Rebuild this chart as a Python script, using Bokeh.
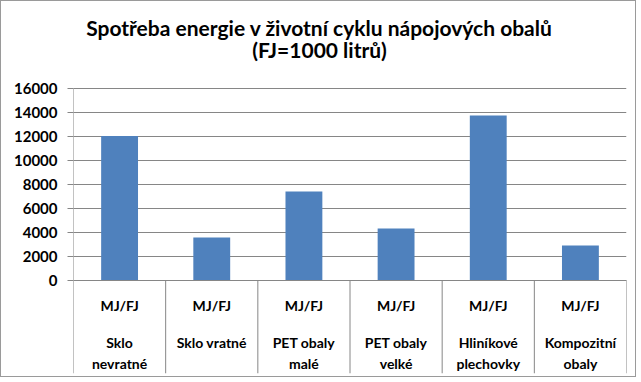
from bokeh.plotting import figure
from bokeh.models import Range1d, FixedTicker, ColumnDataSource
from bokeh.core.properties import value
from bokeh.embed import file_html
from bokeh.resources import INLINE

# ---- data ----
title_line1 = "Spotřeba energie v životní cyklu nápojových obalů"
title_line2 = "(FJ=1000 litrů)"
unit_label = "MJ/FJ"
categories = ["Sklo\nnevratné", "Sklo vratné", "PET obaly\nmalé", "PET obaly\nvelké",
              "Hliníkové\nplechovky", "Kompozitní\nobaly"]
energy = [12000, 3550, 7380, 4300, 13700, 2870]
y_ticks = [0, 2000, 4000, 6000, 8000, 10000, 12000, 14000, 16000]

BAR = "#4F81BD"
GRID = "#868686"
FONT = value("Lato")

n = len(categories)
y_max = y_ticks[-1]
px_per_unit = 12.0 / 1000.0                  # 12 px for every 1000 MJ/FJ
y_range_top = y_max + 86.5 / px_per_unit     # room above for the title
y_range_bottom = -93.5 / px_per_unit         # room below the axis for the labels

p = figure(width=636, height=377, output_backend="svg", toolbar_location=None,
           x_range=Range1d(0, n), y_range=Range1d(y_range_bottom, y_range_top),
           x_axis_location=None, min_border_left=72, min_border_right=11,
           min_border_top=0, min_border_bottom=5)
p.styles = {"border": "1px solid #9A9A9A"}
p.outline_line_color = None
p.xgrid.visible = False
p.ygrid.ticker = FixedTicker(ticks=y_ticks)
p.ygrid.grid_line_color = GRID
p.ygrid.grid_line_width = 1

ax = p.yaxis[0]
ax.ticker = FixedTicker(ticks=y_ticks)
ax.axis_line_color = None
ax.major_tick_line_color = GRID
ax.major_tick_out = 6
ax.major_tick_in = 0
ax.minor_tick_line_color = None
ax.major_label_standoff = 10
ax.major_label_text_font = "Lato"
ax.major_label_text_font_style = "bold"
ax.major_label_text_font_size = "15px"
ax.major_label_text_color = "black"

centers = [i + 0.5 for i in range(n)]
src = ColumnDataSource(dict(x=centers, top=energy))
p.vbar(x="x", top="top", bottom=0, width=0.4, source=src, fill_color=BAR, line_color=None)

# value axis line (only up to the top tick) and category dividers below the axis
bounds = list(range(n + 1))
p.segment(x0=[0], y0=[y_max], x1=[0], y1=[y_range_bottom], line_color=GRID, line_width=1)
p.segment(x0=bounds[1:], y0=[0] * n, x1=bounds[1:], y1=[y_range_bottom] * n,
          line_color=GRID, line_width=1)

# labels below the axis
line1 = [c.split("\n")[0] for c in categories]
line2 = [(c.split("\n") + [""])[1] for c in categories]
common = dict(text_font=FONT, text_font_style="bold", text_font_size="14px",
              text_align="center", text_baseline="middle", text_color="black")
p.text(x=centers, y=[0] * n, text=[unit_label] * n, y_offset=25, **common)
p.text(x=centers, y=[0] * n, text=line1, y_offset=62, **common)
p.text(x=centers, y=[0] * n, text=line2, y_offset=83, **common)

# chart title (two centred lines above the plot)
title_common = dict(text_font=FONT, text_font_style="bold", text_font_size="21px",
                    text_align="center", text_baseline="middle", text_color="black")
p.text(x=[0], y=[y_max], text=[title_line1], x_offset=246, y_offset=-61, **title_common)
p.text(x=[0], y=[y_max], text=[title_line2], x_offset=246, y_offset=-38.5, **title_common)

open("out.html", "w").write(file_html(p, INLINE))
